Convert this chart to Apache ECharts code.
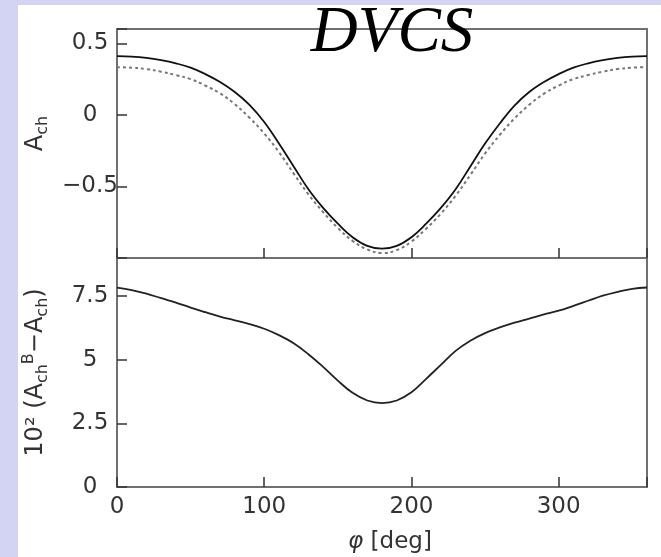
<!DOCTYPE html>
<html><head><meta charset="utf-8">
<script src="https://cdn.jsdelivr.net/npm/echarts@6/dist/echarts.min.js"></script>
<style>html,body{margin:0;padding:0;background:#d3d3f3;}#c{width:661px;height:557px;}</style>
</head><body><div id="c"></div>
<script>
// phi in degrees
const phi = [0,10,20,30,40,50,60,70,80,90,100,110,120,130,140,150,160,170,180,
  190,200,210,220,230,240,250,260,270,280,290,300,310,320,330,340,350,360];
// A_ch, solid curve
const achSolid = [0.41,0.407,0.398,0.382,0.36,0.33,0.285,0.23,0.16,0.07,-0.05,-0.20,-0.36,-0.52,-0.65,-0.76,-0.855,-0.915,-0.935,
  -0.915,-0.855,-0.76,-0.65,-0.52,-0.36,-0.20,-0.06,0.065,0.16,0.23,0.285,0.33,0.36,0.382,0.398,0.407,0.41];
// A_ch, dashed curve
const achDashed = [0.333,0.330,0.320,0.302,0.278,0.25,0.205,0.15,0.075,-0.02,-0.13,-0.26,-0.41,-0.555,-0.68,-0.79,-0.88,-0.94,-0.965,
  -0.945,-0.885,-0.795,-0.69,-0.565,-0.42,-0.27,-0.14,-0.025,0.07,0.148,0.205,0.25,0.278,0.302,0.320,0.330,0.333];
// 10^2 (A_ch^B - A_ch)
const diff = [7.84,7.74,7.60,7.42,7.25,7.05,6.87,6.70,6.55,6.40,6.22,5.97,5.65,5.22,4.72,4.18,3.70,3.40,3.30,
  3.40,3.72,4.25,4.80,5.35,5.75,6.05,6.27,6.46,6.62,6.78,6.93,7.12,7.32,7.52,7.67,7.79,7.84];
const xTickLabels = [0,100,200,300];
const topTickLabels = [-0.5,0,0.5];
const bottomTickLabels = [0,2.5,5,7.5];

const fmt = v => (v < 0 ? '\u2212' + Math.abs(v) : String(v));
const labelFont = {fontFamily:'DejaVu Sans', fontSize:23, color:'#333'};
const tickStyle = {show:true, inside:true, length:10, lineStyle:{color:'#333', width:1.5}};
const noLine = {show:false, onZero:false};

const chart = echarts.init(document.getElementById('c'));
chart.setOption({
  animation:false,
  backgroundColor:'#d3d3f3',
  graphic:[
    {type:'rect', z:-100, shape:{x:18,y:5,width:643,height:552}, style:{fill:'#ffffff'}},
    {type:'text', z:100, style:{text:'DVCS', x:392, y:1, align:'center', textAlign:'center', verticalAlign:'top', textVerticalAlign:'top',
      font:'italic 65px "Liberation Serif"', fill:'#000'}}
  ],
  grid:[
    {left:117, top:29, width:530, height:229, show:true, borderColor:'#707070', borderWidth:2, backgroundColor:'transparent'},
    {left:117, top:258, width:530, height:229, show:true, borderColor:'#707070', borderWidth:2, backgroundColor:'transparent'}
  ],
  xAxis:[
    {type:'value', gridIndex:0, min:0, max:360, interval:100, axisLine:noLine, axisTick:tickStyle,
     axisLabel:{show:false}, splitLine:{show:false}},
    {type:'value', gridIndex:1, min:0, max:360, interval:100, axisLine:noLine, axisTick:tickStyle,
     axisLabel:Object.assign({margin:9, formatter:v => xTickLabels.includes(v) ? fmt(v) : ''}, labelFont),
     splitLine:{show:false},
     name:'{i|\u03c6} [deg]', nameLocation:'middle', nameGap:44,
     nameTextStyle:{fontFamily:'DejaVu Sans', fontSize:23, color:'#333', padding:[0,0,0,16],
       rich:{i:{fontFamily:'DejaVu Sans', fontStyle:'italic', fontSize:23, color:'#333'}}}}
  ],
  yAxis:[
    {type:'value', gridIndex:0, min:-1, max:0.6, interval:0.5, axisLine:noLine, axisTick:tickStyle,
     axisLabel:Object.assign({margin:27, align:'center', formatter:v => topTickLabels.includes(v) ? fmt(v) : ''}, labelFont),
     splitLine:{show:false},
     name:'A{s|ch}', nameLocation:'middle', nameGap:64, nameRotate:90,
     nameTextStyle:{fontFamily:'DejaVu Sans', fontSize:24, color:'#333', lineHeight:30, padding:[0,0,0,20],
       rich:{s:{fontFamily:'DejaVu Sans', fontSize:16, color:'#333', verticalAlign:'bottom', lineHeight:30}}}},
    {type:'value', gridIndex:1, min:0, max:9, interval:2.5, axisLine:noLine, axisTick:tickStyle,
     axisLabel:Object.assign({margin:27, align:'center', formatter:v => bottomTickLabels.includes(v) ? fmt(v) : ''}, labelFont),
     splitLine:{show:false},
     name:'10\u00b2 (A{s|ch}{p|B}\u2212A{s|ch})', nameLocation:'middle', nameGap:66, nameRotate:90,
     nameTextStyle:{fontFamily:'DejaVu Sans', fontSize:24, color:'#333', lineHeight:30, padding:[0,0,0,0],
       rich:{s:{fontFamily:'DejaVu Sans', fontSize:16, color:'#333', verticalAlign:'bottom', lineHeight:30},
             p:{fontFamily:'DejaVu Sans', fontSize:16, color:'#333', verticalAlign:'top', lineHeight:30}}}}
  ],
  series:[
    {type:'line', xAxisIndex:0, yAxisIndex:0, smooth:0.4, showSymbol:false, z:3,
     data:phi.map((p,i)=>[p, achSolid[i]]), lineStyle:{color:'#111', width:1.8}},
    {type:'line', xAxisIndex:0, yAxisIndex:0, smooth:0.4, showSymbol:false, z:2,
     data:phi.map((p,i)=>[p, achDashed[i]]), lineStyle:{color:'#777', width:2, type:[3,3]}},
    {type:'line', xAxisIndex:1, yAxisIndex:1, smooth:0.4, showSymbol:false,
     data:phi.map((p,i)=>[p, diff[i]]), lineStyle:{color:'#222', width:1.8}}
  ]
});
</script></body></html>
